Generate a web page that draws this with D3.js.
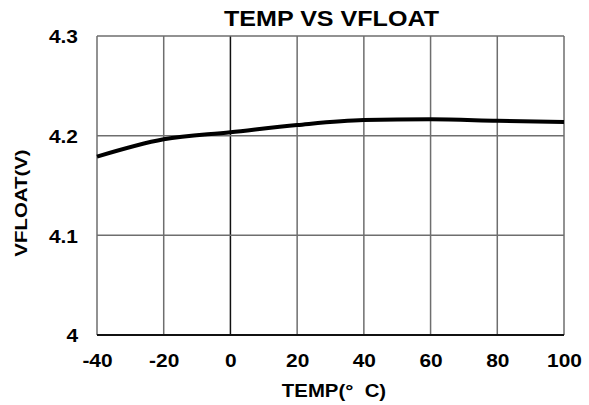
<!DOCTYPE html>
<html>
<head>
<meta charset="utf-8">
<script src="https://cdn.jsdelivr.net/npm/d3@7"></script>
<style>
  html, body { margin: 0; padding: 0; background: #fff; }
  svg { display: block; }
  text { font-family: "Liberation Sans", Arial, sans-serif; font-weight: bold; fill: #000; }
</style>
</head>
<body>
<svg id="chart" width="589" height="405"></svg>
<script>
// ---- data ----
const temps = [-40, -20, 0, 20, 40, 60, 80, 100];
const vfloat = [4.179, 4.1964, 4.2034, 4.2107, 4.2157, 4.2164, 4.215, 4.2137];
const xTicks = [-40, -20, 0, 20, 40, 60, 80, 100];
const yTicks = [4.0, 4.1, 4.2, 4.3];
const yTickLabels = ["4", "4.1", "4.2", "4.3"];
const titleText = "TEMP VS VFLOAT";
const xTitleText = "TEMP(°  C)";
const yTitleText = "VFLOAT(V)";

(function () {
  const svg = d3.select("#chart");
  const pLeft = 97, pRight = 564, pTop = 36, pBottom = 335;
  const x = d3.scaleLinear().domain([-40, 100]).range([pLeft, pRight]);
  const y = d3.scaleLinear().domain([4.0, 4.3]).range([pBottom, pTop]);

  function stretch(sel, factor) {
    sel.each(function () {
      const len = this.getComputedTextLength();
      d3.select(this).attr("textLength", len * factor).attr("lengthAdjust", "spacingAndGlyphs");
    });
  }

  // grid (vertical)
  svg.append("g").selectAll("line").data(xTicks).join("line")
    .attr("x1", d => x(d)).attr("x2", d => x(d))
    .attr("y1", pTop).attr("y2", pBottom)
    .attr("stroke", d => d === 0 ? "#111" : "#6e6e6e")
    .attr("stroke-width", 1.5);

  // grid (horizontal)
  svg.append("g").selectAll("line").data(yTicks).join("line")
    .attr("x1", pLeft).attr("x2", pRight)
    .attr("y1", d => y(d)).attr("y2", d => y(d))
    .attr("stroke", d => d === 4.0 ? "#111" : "#6e6e6e")
    .attr("stroke-width", d => d === 4.0 ? 1.8 : 1.5);

  // x axis labels
  const xAxis = d3.axisBottom(x).tickValues(xTicks).tickSize(0).tickPadding(0).tickFormat(d => String(d));
  const gx = svg.append("g").attr("transform", `translate(0,${pBottom})`).call(xAxis);
  gx.select(".domain").remove();
  gx.selectAll("text").attr("font-size", 19).attr("dy", null).attr("y", 32)
    .style("font-family", '"Liberation Sans", Arial, sans-serif').style("font-weight", "bold").attr("fill", "#000");
  stretch(gx.selectAll("text"), 1.1);

  // y axis labels
  const yAxis = d3.axisLeft(y).tickValues(yTicks).tickSize(0).tickPadding(0)
    .tickFormat((d, i) => yTickLabels[i]);
  const gy = svg.append("g").attr("transform", `translate(${pLeft},0)`).call(yAxis);
  gy.select(".domain").remove();
  gy.selectAll("text").attr("font-size", 19).attr("x", -19).attr("dy", "0.36em")
    .style("font-family", '"Liberation Sans", Arial, sans-serif').style("font-weight", "bold").attr("fill", "#000");
  stretch(gy.selectAll("text"), 1.1);

  // curve
  const line = d3.line().x((d, i) => x(temps[i])).y(d => y(d)).curve(d3.curveMonotoneX);
  svg.append("path").datum(vfloat)
    .attr("d", line)
    .attr("fill", "none").attr("stroke", "#000").attr("stroke-width", 4)
    .attr("stroke-linejoin", "round");

  // titles
  const t = svg.append("text").attr("x", 331.5).attr("y", 26).attr("text-anchor", "middle")
    .attr("font-size", 22).text(titleText);
  stretch(t, 1.14);

  const xt = svg.append("text").attr("x", 334).attr("y", 397).attr("text-anchor", "middle")
    .attr("font-size", 18.5).attr("xml:space", "preserve").style("white-space", "pre").text(xTitleText);
  stretch(xt, 1.1);

  const yt = svg.append("text").attr("transform", "translate(27,203) rotate(-90)")
    .attr("text-anchor", "middle").attr("font-size", 17).text(yTitleText);
  stretch(yt, 1.2);
})();
</script>
</body>
</html>
